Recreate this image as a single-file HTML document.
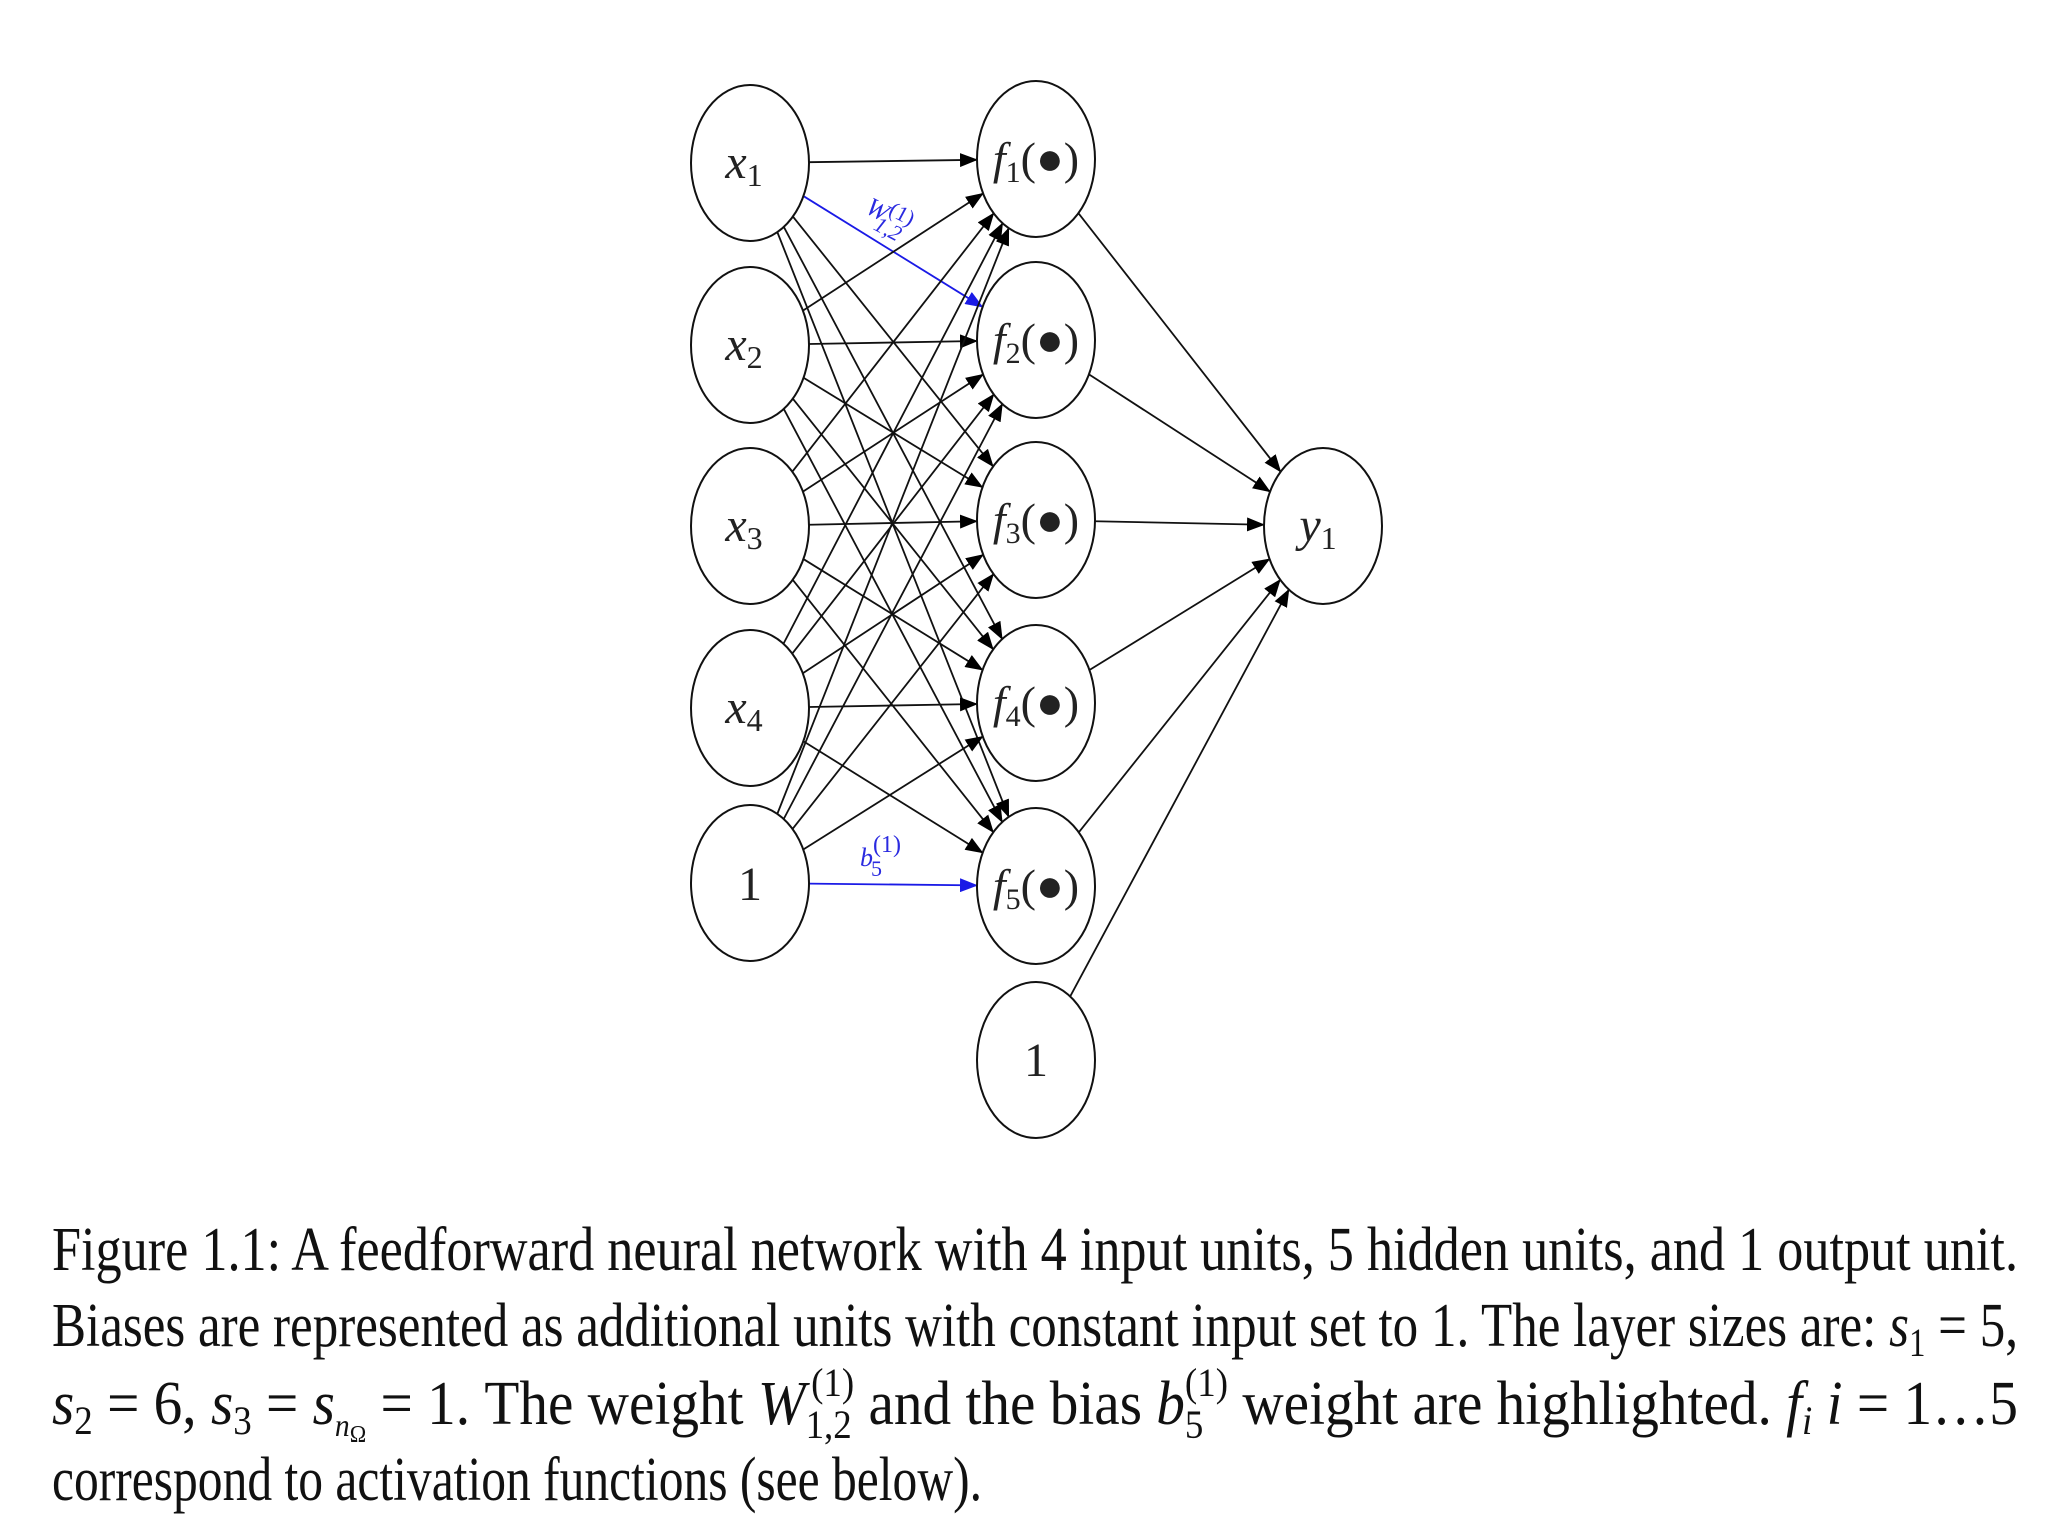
<!DOCTYPE html>
<html><head><meta charset="utf-8"><style>
html,body{margin:0;padding:0;background:#fff;}
svg{display:block}
</style></head><body>
<svg id="s" width="2048" height="1536" viewBox="0 0 2048 1536" xmlns="http://www.w3.org/2000/svg">
<defs>
<marker id="ab" markerUnits="userSpaceOnUse" markerWidth="18" markerHeight="14" refX="17" refY="7" orient="auto"><path d="M0,0 L18,7 L0,14 Z" fill="#000"/></marker>
<marker id="au" markerUnits="userSpaceOnUse" markerWidth="18" markerHeight="14" refX="17" refY="7" orient="auto"><path d="M0,0 L18,7 L0,14 Z" fill="#1a1ae6"/></marker>
</defs>
<g id="edges"></g>
<g id="nodes" fill="#fff" stroke="#111" stroke-width="2"></g>
<g font-family="'Liberation Serif',serif" font-style="italic" font-size="48" fill="#222" text-anchor="middle">
<text x="744" y="178">x<tspan font-size="32" font-style="normal" dy="8">1</tspan></text>
<text x="744" y="360">x<tspan font-size="32" font-style="normal" dy="8">2</tspan></text>
<text x="744" y="541">x<tspan font-size="32" font-style="normal" dy="8">3</tspan></text>
<text x="744" y="723">x<tspan font-size="32" font-style="normal" dy="8">4</tspan></text>
<text x="750" y="900" font-style="normal">1</text>
<text x="1036" y="1076" font-style="normal">1</text>
<text x="1318" y="541">y<tspan font-size="32" font-style="normal" dy="8">1</tspan></text>
</g>
<g font-family="'Liberation Serif',serif" font-size="46" fill="#222" text-anchor="middle">
<text x="1036" y="174"><tspan font-style="italic">f</tspan><tspan font-size="30" dy="8">1</tspan><tspan dy="-8">(●)</tspan></text>
<text x="1036" y="355"><tspan font-style="italic">f</tspan><tspan font-size="30" dy="8">2</tspan><tspan dy="-8">(●)</tspan></text>
<text x="1036" y="535"><tspan font-style="italic">f</tspan><tspan font-size="30" dy="8">3</tspan><tspan dy="-8">(●)</tspan></text>
<text x="1036" y="718"><tspan font-style="italic">f</tspan><tspan font-size="30" dy="8">4</tspan><tspan dy="-8">(●)</tspan></text>
<text x="1036" y="901"><tspan font-style="italic">f</tspan><tspan font-size="30" dy="8">5</tspan><tspan dy="-8">(●)</tspan></text>
</g>
<g font-family="'Liberation Serif',serif" font-style="italic" font-size="26" fill="#2a2ae0">
<text x="864" y="212" transform="rotate(28 864 212)">W<tspan font-size="22" dy="-9" font-style="normal">(1)</tspan><tspan font-size="22" dx="-32" dy="20">1,2</tspan></text>
<text x="860" y="866">b<tspan font-size="24" dy="-14" font-style="normal">(1)</tspan><tspan font-size="22" dx="-30" dy="24" font-style="normal">5</tspan></text>
</g>
<g font-family="'Liberation Serif',serif" font-size="62" fill="#111">
<text x="52" y="1270" textLength="1966" lengthAdjust="spacingAndGlyphs">Figure 1.1: A feedforward neural network with 4 input units, 5 hidden units, and 1 output unit.</text>
<text x="52" y="1346" textLength="1966" lengthAdjust="spacingAndGlyphs">Biases are represented as additional units with constant input set to 1. The layer sizes are: <tspan font-style="italic">s</tspan><tspan font-size="40" dy="10">1</tspan><tspan dy="-10"> = 5,</tspan></text>
<text x="52" y="1424" textLength="1966" lengthAdjust="spacingAndGlyphs"><tspan font-style="italic">s</tspan><tspan font-size="40" dy="10">2</tspan><tspan dy="-10"> = 6, </tspan><tspan font-style="italic">s</tspan><tspan font-size="40" dy="10">3</tspan><tspan dy="-10"> = </tspan><tspan font-style="italic">s</tspan><tspan font-size="32" dy="12" font-style="italic">n</tspan><tspan font-size="24" dy="6">Ω</tspan><tspan dy="-18"> = 1.  The weight </tspan><tspan font-style="italic">W</tspan><tspan font-size="40" dy="14">1,2</tspan><tspan font-size="40" dx="-44" dy="-42">(1)</tspan><tspan dy="28"> and the bias </tspan><tspan font-style="italic">b</tspan><tspan font-size="40" dy="14">5</tspan><tspan font-size="40" dx="-20" dy="-42">(1)</tspan><tspan dy="28"> weight are highlighted.  </tspan><tspan font-style="italic">f</tspan><tspan font-size="40" dy="10" font-style="italic">i</tspan><tspan dy="-10" font-style="italic"> i</tspan><tspan> = 1…5</tspan></text>
<text x="52" y="1500" textLength="930" lengthAdjust="spacingAndGlyphs">correspond to activation functions (see below).</text>
</g>
</svg>
<script>
var NS="http://www.w3.org/2000/svg";
var rx=59,ry=78;
var inp=[[750,163],[750,345],[750,526],[750,708],[750,883]];
var hid=[[1036,159],[1036,340],[1036,520],[1036,703],[1036,886]];
var hb=[1036,1060];
var out=[1323,526];
var E=document.getElementById('edges'),N=document.getElementById('nodes');
function bp(c,d){var dx=d[0]-c[0],dy=d[1]-c[1];var L=Math.hypot(dx,dy);dx/=L;dy/=L;var t=1/Math.sqrt((dx/rx)*(dx/rx)+(dy/ry)*(dy/ry));return [c[0]+dx*t,c[1]+dy*t];}
function line(a,b,blue){var p=bp(a,b),q=bp(b,a);var l=document.createElementNS(NS,'line');l.setAttribute('x1',p[0]);l.setAttribute('y1',p[1]);l.setAttribute('x2',q[0]);l.setAttribute('y2',q[1]);l.setAttribute('stroke',blue?'#1a1ae6':'#111');l.setAttribute('stroke-width','1.8');l.setAttribute('marker-end',blue?'url(#au)':'url(#ab)');E.appendChild(l);}
for(var i=0;i<5;i++)for(var j=0;j<5;j++){line(inp[i],hid[j],(i==0&&j==1)||(i==4&&j==4));}
for(var j=0;j<5;j++)line(hid[j],out,false);
line(hb,out,false);
function circ(c){var e=document.createElementNS(NS,'ellipse');e.setAttribute('cx',c[0]);e.setAttribute('cy',c[1]);e.setAttribute('rx',rx);e.setAttribute('ry',ry);N.appendChild(e);}
inp.concat(hid).concat([hb,out]).forEach(circ);
</script>
</body></html>
